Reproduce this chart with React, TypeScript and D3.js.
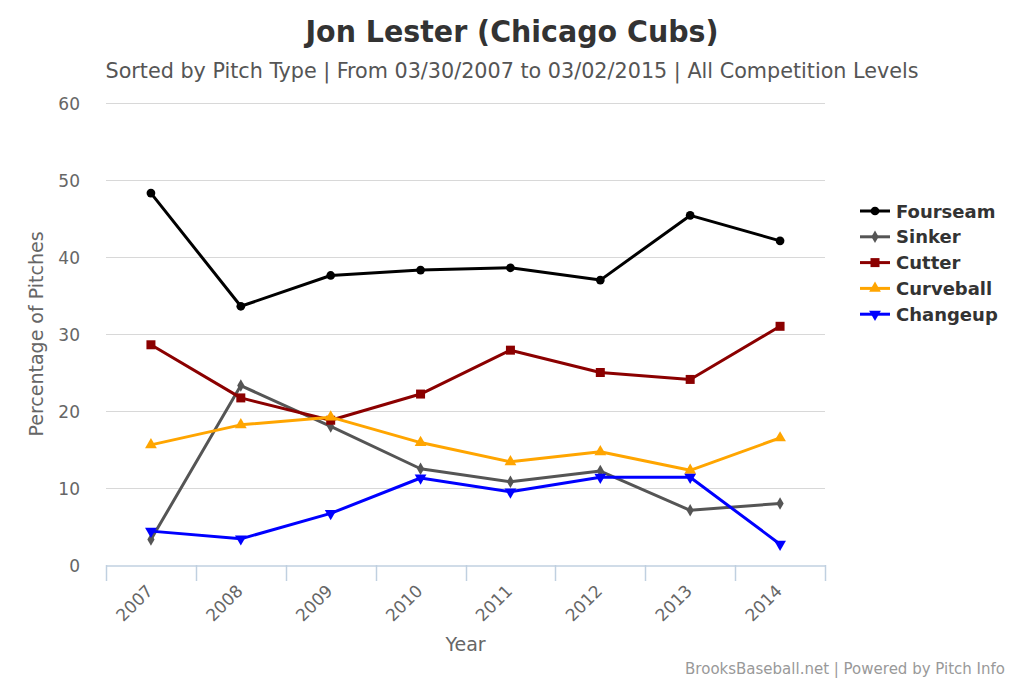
import React, { useRef, useEffect } from 'react';
import * as d3 from 'd3';

const years: string[] = ['2007', '2008', '2009', '2010', '2011', '2012', '2013', '2014'];
const yTicks: number[] = [0, 10, 20, 30, 40, 50, 60];

const fourseam: number[] = [48.3, 33.6, 37.6, 38.3, 38.6, 37.0, 45.4, 42.1];
const sinker: number[] = [3.3, 23.3, 18.0, 12.5, 10.8, 12.2, 7.1, 8.0];
const cutter: number[] = [28.6, 21.7, 18.8, 22.2, 27.9, 25.0, 24.1, 31.0];
const curveball: number[] = [15.6, 18.2, 19.2, 15.9, 13.4, 14.7, 12.3, 16.5];
const changeup: number[] = [4.4, 3.4, 6.7, 11.3, 9.5, 11.4, 11.4, 2.7];

const seriesNames: string[] = ['Fourseam', 'Sinker', 'Cutter', 'Curveball', 'Changeup'];
const seriesValues: number[][] = [fourseam, sinker, cutter, curveball, changeup];
const seriesColors: string[] = ['#000000', '#555555', '#8B0000', '#FFA500', '#0000FF'];
const seriesSymbols = [d3.symbolCircle, d3.symbolDiamond, d3.symbolSquare, d3.symbolTriangle, d3.symbolTriangle];
const symbolSizes: number[] = [60, 45, 81, 60, 60];

const App: React.FC = () => {
  const svgRef = useRef<SVGSVGElement | null>(null);

  useEffect(() => {
    if (!svgRef.current) return;
    const svg = d3.select(svgRef.current);
    svg.selectAll('*').remove();

    const width = 1024;
    const height = 683;
    const margin = { top: 103, right: 199, bottom: 118, left: 106 };
    const titleFont = '"DejaVu Sans Condensed", "DejaVu Sans", sans-serif';
    const font = '"DejaVu Sans", sans-serif';

    const x = d3.scaleBand<string>()
      .domain(years)
      .range([margin.left, width - margin.right]);

    const y = d3.scaleLinear()
      .domain([0, 60])
      .range([height - margin.bottom, margin.top]);

    // Gridlines
    svg.append('g')
      .selectAll('line')
      .data(yTicks.filter(t => t > 0))
      .enter()
      .append('line')
      .attr('x1', margin.left)
      .attr('x2', width - margin.right)
      .attr('y1', d => y(d) + 0.5)
      .attr('y2', d => y(d) + 0.5)
      .attr('stroke', '#D8D8D8')
      .attr('stroke-width', 1);

    // Y axis labels
    svg.append('g')
      .selectAll('text')
      .data(yTicks)
      .enter()
      .append('text')
      .attr('x', 80)
      .attr('y', d => y(d) + 7)
      .attr('text-anchor', 'end')
      .attr('font-family', font)
      .attr('font-size', 17)
      .attr('fill', '#666')
      .text(d => String(d));

    // X axis
    const xAxis = svg.append('g')
      .attr('transform', `translate(0,${y(0) + 0.5})`)
      .call(d3.axisBottom(x).tickSize(0).tickFormat(() => ''));
    xAxis.select('.domain').attr('stroke', '#C0D0E0').attr('stroke-width', 1.5);
    xAxis.selectAll('.tick').remove();

    const bounds = years.map(yr => x(yr)!).concat([x(years[years.length - 1])! + x.bandwidth()]);
    svg.append('g')
      .selectAll('line')
      .data(bounds)
      .enter()
      .append('line')
      .attr('x1', d => Math.round(d) + 0.5)
      .attr('x2', d => Math.round(d) + 0.5)
      .attr('y1', y(0))
      .attr('y2', y(0) + 16)
      .attr('stroke', '#C0D0E0')
      .attr('stroke-width', 1.5);

    svg.append('g')
      .selectAll('text')
      .data(years)
      .enter()
      .append('text')
      .attr('transform', d => `translate(${x(d)! + x.bandwidth() / 2 + 3},${y(0) + 27}) rotate(-45)`)
      .attr('text-anchor', 'end')
      .attr('font-family', font)
      .attr('font-size', 17)
      .attr('fill', '#666')
      .text(d => d);

    // Axis titles
    svg.append('text')
      .attr('x', x.range()[0] + (x.range()[1] - x.range()[0]) / 2)
      .attr('y', 651)
      .attr('text-anchor', 'middle')
      .attr('font-family', font)
      .attr('font-size', 19)
      .attr('fill', '#666')
      .text('Year');

    svg.append('text')
      .attr('transform', `translate(43,${(y(0) + y(60)) / 2}) rotate(-90)`)
      .attr('text-anchor', 'middle')
      .attr('font-family', font)
      .attr('font-size', 19)
      .attr('fill', '#666')
      .text('Percentage of Pitches');

    // Title and subtitle
    svg.append('text')
      .attr('x', 512)
      .attr('y', 42)
      .attr('text-anchor', 'middle')
      .attr('font-family', titleFont)
      .attr('font-size', 31)
      .attr('font-weight', 'bold')
      .attr('fill', '#333')
      .attr('textLength', 413)
      .attr('lengthAdjust', 'spacingAndGlyphs')
      .text('Jon Lester (Chicago Cubs)');

    svg.append('text')
      .attr('x', 512)
      .attr('y', 78)
      .attr('text-anchor', 'middle')
      .attr('font-family', titleFont)
      .attr('font-size', 20.5)
      .attr('fill', '#555')
      .attr('textLength', 813)
      .attr('lengthAdjust', 'spacingAndGlyphs')
      .text('Sorted by Pitch Type | From 03/30/2007 to 03/02/2015 | All Competition Levels');

    // Series
    const line = d3.line<number>()
      .x((_, i) => x(years[i])! + x.bandwidth() / 2)
      .y(d => y(d));

    seriesValues.forEach((vals, si) => {
      const g = svg.append('g');
      g.append('path')
        .datum(vals)
        .attr('d', line)
        .attr('fill', 'none')
        .attr('stroke', seriesColors[si])
        .attr('stroke-width', 3)
        .attr('stroke-linejoin', 'round');
      g.selectAll('path.pt')
        .data(vals)
        .enter()
        .append('path')
        .attr('class', 'pt')
        .attr('d', d3.symbol().type(seriesSymbols[si]).size(symbolSizes[si])())
        .attr('transform', (d, i) =>
          `translate(${x(years[i])! + x.bandwidth() / 2},${y(d)})${si === 4 ? ' rotate(180)' : ''}`)
        .attr('fill', seriesColors[si]);
    });

    // Legend
    const legend = svg.append('g');
    seriesNames.forEach((name, si) => {
      const ly = 211 + si * 25.8;
      legend.append('line')
        .attr('x1', 860)
        .attr('x2', 890)
        .attr('y1', ly)
        .attr('y2', ly)
        .attr('stroke', seriesColors[si])
        .attr('stroke-width', 3);
      legend.append('path')
        .attr('d', d3.symbol().type(seriesSymbols[si]).size(symbolSizes[si])())
        .attr('transform', `translate(875,${ly})${si === 4 ? ' rotate(180)' : ''}`)
        .attr('fill', seriesColors[si]);
      legend.append('text')
        .attr('x', 896)
        .attr('y', ly + 6.5)
        .attr('font-family', font)
        .attr('font-size', 18)
        .attr('font-weight', 'bold')
        .attr('fill', '#333')
        .text(name);
    });

    // Credits
    svg.append('text')
      .attr('x', 1005)
      .attr('y', 674)
      .attr('text-anchor', 'end')
      .attr('font-family', font)
      .attr('font-size', 15)
      .attr('fill', '#999')
      .text('BrooksBaseball.net | Powered by Pitch Info');
  }, []);

  return (
    <svg
      ref={svgRef}
      width={1024}
      height={683}
      style={{ position: 'absolute', left: 0, top: 0, background: '#fff' }}
    />
  );
};

export default App;
